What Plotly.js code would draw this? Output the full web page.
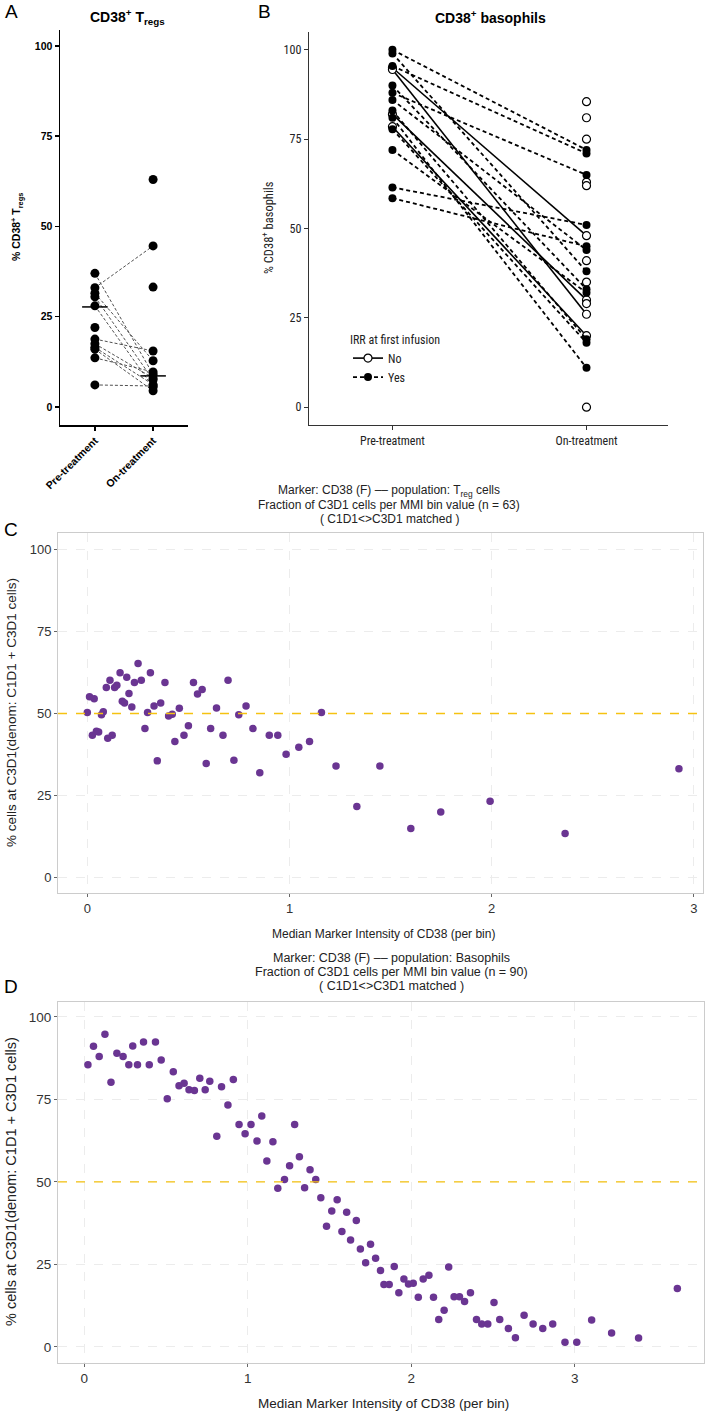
<!DOCTYPE html>
<html>
<head>
<meta charset="utf-8">
<script src="https://cdn.plot.ly/plotly-3.0.1.min.js"></script>
<style>body{margin:0;background:#fff}</style>
</head>
<body>
<div id="fig" style="width:709px;height:1413px"></div>
<script>
// panel A - CD38+ Tregs, pre vs on treatment (null = no partner sample)
var treatLabels = ['Pre-treatment', 'On-treatment'];
var tregPre = [37, 33, 31.5, 30.5, 28, 22, 18.8, 17.5, 16.5, 16, 13.6, 6.1, null, null];
var tregOn  = [9, 44.6, 12.8, 7.5, 5.5, null, 15.5, 8, 6.2, 4.5, 9.7, 5.8, 63, 33.2];
var tregMedian = [27.7, 8.6];

// panel B - CD38+ basophils, split by IRR at first infusion
var basoYesPre = [100, 99, 95.5, 90, 88, 86, 83, 81, 77.8, 72, 61.5, 58.5];
var basoYesOn  = [72, 38, 71, 33, 65, 44, 19, 11, 18, 32, 51, 45];
var basoNoPre  = [95, 94.5, 82, 78.5, null, null, null, null, null, null, null, null, null];
var basoNoOn   = [48, 26, 30, 20, 85.5, 81, 75, 63, 62, 41, 35, 29, 0];

// panel C - Treg cells, % at C3D1 per MMI bin (n = 63)
var tregMmi = [0, 0.011, 0.034, 0.025, 0.045, 0.056, 0.07, 0.079, 0.094, 0.101,
  0.112, 0.123, 0.135, 0.146, 0.162, 0.173, 0.184, 0.195, 0.206, 0.22,
  0.233, 0.251, 0.267, 0.285, 0.298, 0.312, 0.33, 0.346, 0.363, 0.384,
  0.402, 0.42, 0.433, 0.455, 0.478, 0.5, 0.525, 0.545, 0.568, 0.588,
  0.61, 0.639, 0.671, 0.696, 0.725, 0.749, 0.785, 0.819, 0.853, 0.9,
  0.942, 0.983, 1.046, 1.099, 1.158, 1.23, 1.333, 1.447, 1.6, 1.748,
  1.992, 2.363, 2.926];
var tregPct = [50.3, 55.1, 54.5, 43.4, 44.6, 44.4, 49.6, 50.5, 57.9, 42.5,
  60.1, 43.4, 57.9, 58.6, 62.4, 53.7, 53.2, 61, 56.1, 52,
  59.4, 65.2, 60.1, 45.4, 50.3, 62.4, 52.3, 35.6, 53.2, 59.4,
  49.2, 49.8, 41.5, 51.6, 43.4, 46.3, 59.4, 55.9, 57.3, 34.8,
  45.4, 51.7, 43.4, 60.1, 35.8, 49.6, 52.3, 45.4, 32, 43.4,
  43.4, 37.6, 39.7, 41.5, 50.3, 34, 21.7, 34, 15, 20,
  23.3, 13.5, 33.2];

// panel D - basophils, % at C3D1 per MMI bin (n = 90)
var basoMmi = [0.023, 0.057, 0.092, 0.127, 0.164, 0.2, 0.238, 0.273, 0.297, 0.326,
  0.363, 0.398, 0.436, 0.471, 0.508, 0.545, 0.58, 0.611, 0.641, 0.674,
  0.707, 0.74, 0.768, 0.811, 0.84, 0.879, 0.912, 0.947, 0.984, 1.02,
  1.057, 1.086, 1.117, 1.154, 1.184, 1.225, 1.256, 1.287, 1.316, 1.348,
  1.381, 1.416, 1.447, 1.482, 1.514, 1.547, 1.576, 1.605, 1.629, 1.664,
  1.689, 1.721, 1.751, 1.782, 1.812, 1.833, 1.865, 1.896, 1.924, 1.955,
  1.983, 2.012, 2.043, 2.073, 2.108, 2.136, 2.168, 2.201, 2.229, 2.262,
  2.295, 2.326, 2.362, 2.399, 2.431, 2.468, 2.506, 2.541, 2.594, 2.637,
  2.69, 2.745, 2.804, 2.865, 2.94, 3.012, 3.103, 3.225, 3.39, 3.627];
var basoPct = [85.5, 91.1, 88, 94.7, 80.2, 89, 88, 85.5, 91.2, 85.5,
  92.4, 85.5, 92.4, 86.9, 75.2, 83.4, 79.1, 79.9, 77.9, 77.7,
  81.4, 77.9, 80.5, 63.8, 78.8, 73.3, 81, 67.4, 64.6, 67.4,
  62.4, 70, 56.3, 62.2, 48.1, 50.7, 54.9, 67.4, 57.6, 48.2,
  53.7, 50.7, 45.2, 36.6, 41.2, 44.6, 35, 40.8, 32.4, 38.3,
  29.7, 25.5, 31.1, 26.9, 23.2, 18.9, 18.9, 24.4, 16.4, 20.6,
  19.1, 19.3, 15.1, 20.6, 21.7, 15.1, 8.3, 11.1, 24.2, 15.2,
  15.2, 13.8, 16.4, 8.3, 7, 7, 13.5, 8.3, 5.6, 2.8,
  9.6, 7, 5.6, 7, 1.4, 1.4, 8.2, 4.2, 2.7, 17.7];

var W = 709, H = 1413;
function px(v) { return v / W; }
function py(v) { return 1 - v / H; }

// join pre/on pairs into one trace, null breaks the line
function pairs(pre, on) {
    var x = [], y = [];
    for (var i = 0; i < on.length; i++) {
        x.push(0, 1, null);
        y.push(pre[i], on[i], null);
    }
    return { x: x, y: y };
}
function points(pre, on) {
    var x = [], y = [];
    pre.forEach(function (v) { if (v !== null) { x.push(0); y.push(v); } });
    on.forEach(function (v) { if (v !== null) { x.push(1); y.push(v); } });
    return { x: x, y: y };
}

var ARIAL = 'Liberation Sans, Arial, Helvetica, sans-serif';
var NARROW = 'Liberation Sans Narrow, Arial Narrow, Roboto Condensed, Liberation Sans, sans-serif';
var PURPLE = '#6a3592';
var GOLD = '#f5c211';

var aLines = pairs(tregPre, tregOn);
var aPts = points(tregPre, tregOn);
var bNo = pairs(basoNoPre, basoNoOn);
var bYes = pairs(basoYesPre, basoYesOn);

var data = [
    {
        x: aLines.x, y: aLines.y, xaxis: 'x', yaxis: 'y', mode: 'lines',
        line: { color: '#505050', width: 1, dash: '3px,2px' },
        showlegend: false, hoverinfo: 'skip'
    },
    {
        x: aPts.x, y: aPts.y, xaxis: 'x', yaxis: 'y', mode: 'markers',
        marker: { color: 'black', size: 9 }, showlegend: false
    },
    {
        x: [-0.22, 0.22, null, 0.78, 1.22],
        y: [tregMedian[0], tregMedian[0], null, tregMedian[1], tregMedian[1]],
        xaxis: 'x', yaxis: 'y', mode: 'lines',
        line: { color: 'black', width: 1.5 }, showlegend: false
    },
    {
        x: bNo.x, y: bNo.y, xaxis: 'x2', yaxis: 'y2', mode: 'lines+markers', name: 'No',
        line: { color: 'black', width: 1.6 },
        marker: { symbol: 'circle', size: 8, color: 'white', line: { color: 'black', width: 1.2 } }
    },
    {
        x: bYes.x, y: bYes.y, xaxis: 'x2', yaxis: 'y2', mode: 'lines+markers', name: 'Yes',
        line: { color: 'black', width: 1.8, dash: '4px,3px' },
        marker: { symbol: 'circle', size: 8, color: 'black' }
    },
    {
        x: tregMmi, y: tregPct, xaxis: 'x3', yaxis: 'y3', mode: 'markers',
        marker: { color: PURPLE, size: 7.5 }, showlegend: false
    },
    {
        x: basoMmi, y: basoPct, xaxis: 'x4', yaxis: 'y4', mode: 'markers',
        marker: { color: PURPLE, size: 7.5 }, showlegend: false
    }
];

var axA = {
    showline: true, linecolor: 'black', linewidth: 1.5, ticks: 'outside', ticklen: 4,
    tickcolor: 'black', tickwidth: 1.5, showgrid: false, zeroline: false,
    tickfont: { family: ARIAL, size: 10.5, weight: 'bold', color: 'black' }
};
var axB = {
    showline: true, linecolor: '#333', linewidth: 1.2, ticks: 'outside', ticklen: 4,
    tickcolor: '#333', showgrid: false, zeroline: false,
    tickfont: { family: NARROW, size: 12, color: '#222' }
};
function axC(size) {
    return {
        showline: true, mirror: true, linecolor: '#cccccc', linewidth: 1,
        ticks: 'outside', ticklen: 3, tickcolor: '#666', zeroline: false,
        showgrid: true, gridcolor: '#ececec', griddash: 'dash', gridwidth: 1,
        tickfont: { family: ARIAL, size: size, color: '#333' }
    };
}

var layout = {
    width: W, height: H,
    margin: { l: 0, r: 0, t: 0, b: 0 },
    paper_bgcolor: 'white', plot_bgcolor: 'white',
    xaxis: Object.assign({}, axA, {
        domain: [px(60), px(188)], range: [-0.6, 1.6], anchor: 'y',
        tickvals: [0, 1], ticktext: treatLabels, tickangle: -45
    }),
    yaxis: Object.assign({}, axA, {
        domain: [py(425), py(30)], range: [-5, 104.4], anchor: 'x',
        tickvals: [0, 25, 50, 75, 100]
    }),
    xaxis2: Object.assign({}, axB, {
        domain: [px(309), px(668)], range: [-0.43, 1.42], anchor: 'y2',
        tickvals: [0, 1], ticktext: treatLabels
    }),
    yaxis2: Object.assign({}, axB, {
        domain: [py(425), py(32)], range: [-5, 105], anchor: 'x2',
        tickvals: [0, 25, 50, 75, 100]
    }),
    xaxis3: Object.assign(axC(13), {
        domain: [px(58), px(703)], range: [-0.145, 3.045], anchor: 'y3', tickvals: [0, 1, 2, 3]
    }),
    yaxis3: Object.assign(axC(13), {
        domain: [py(893), py(533)], range: [-4.6, 104.9], anchor: 'x3', tickvals: [0, 25, 50, 75, 100]
    }),
    xaxis4: Object.assign(axC(13.5), {
        domain: [px(58), px(704)], range: [-0.16, 3.79], anchor: 'y4', tickvals: [0, 1, 2, 3]
    }),
    yaxis4: Object.assign(axC(13.5), {
        domain: [py(1363), py(1002)], range: [-4.85, 104.5], anchor: 'x4', tickvals: [0, 25, 50, 75, 100]
    }),
    legend: {
        x: px(348), y: py(328), xanchor: 'left', yanchor: 'top',
        bgcolor: 'rgba(0,0,0,0)', itemwidth: 30, tracegroupgap: 0,
        font: { family: NARROW, size: 12, color: '#222' },
        title: { text: 'IRR at first infusion', font: { family: NARROW, size: 12, color: '#222' } }
    },
    shapes: [
        { type: 'line', layer: 'above', xref: 'x3 domain', yref: 'y3', x0: 0, x1: 1, y0: 50, y1: 50,
          line: { color: GOLD, width: 1.4, dash: 'dash' } },
        { type: 'line', layer: 'above', xref: 'x4 domain', yref: 'y4', x0: 0, x1: 1, y0: 50, y1: 50,
          line: { color: GOLD, width: 1.4, dash: 'dash' } }
    ],
    annotations: []
};

function note(text, x, y, opts) {
    layout.annotations.push(Object.assign({
        text: text, xref: 'paper', yref: 'paper', x: px(x), y: py(y),
        showarrow: false, xanchor: 'center', yanchor: 'middle',
        font: { family: ARIAL, size: 12, color: 'black' }
    }, opts || {}));
}

// panel letters
note('A', 3, 12, { xanchor: 'left', font: { family: ARIAL, size: 19, color: 'black' } });
note('B', 256, 12, { xanchor: 'left', font: { family: ARIAL, size: 19, color: 'black' } });
note('C', 2, 529, { xanchor: 'left', font: { family: ARIAL, size: 19, color: 'black' } });
note('D', 2, 986, { xanchor: 'left', font: { family: ARIAL, size: 19, color: 'black' } });

// panel titles
note('CD38<sup>+</sup> T<sub>regs</sub>', 127, 17, { font: { family: ARIAL, size: 14, weight: 'bold', color: 'black' } });
note('CD38<sup>+</sup> basophils', 490, 17, { font: { family: ARIAL, size: 14, weight: 'bold', color: 'black' } });

// y titles for A and B
note('% CD38<sup>+</sup> T<sub>regs</sub>', 17, 227, { textangle: -90, font: { family: ARIAL, size: 10.5, weight: 'bold', color: 'black' } });
note('% CD38<sup>+</sup> basophils', 268, 228, { textangle: -90, font: { family: NARROW, size: 12.5, color: '#222' } });

// C titles
var fC = { family: ARIAL, size: 12, color: '#222' };
note('Marker: CD38 (F) –– population: T<sub>reg</sub> cells', 389, 491, { font: fC });
note('Fraction of C3D1 cells per MMI bin value (n = 63)', 389, 505, { font: fC });
note('( C1D1&lt;&gt;C3D1 matched )', 389, 519, { font: fC });
note('% cells at C3D1(denom: C1D1 + C3D1 cells)', 11, 713, { textangle: -90, font: { family: ARIAL, size: 13.5, color: '#222' } });
note('Median Marker Intensity of CD38 (per bin)', 383, 934, { font: { family: ARIAL, size: 12, color: '#222' } });

// D titles
var fD = { family: ARIAL, size: 12.5, color: '#222' };
note('Marker: CD38 (F) –– population: Basophils', 391, 958, { font: fD });
note('Fraction of C3D1 cells per MMI bin value (n = 90)', 391, 972, { font: fD });
note('( C1D1&lt;&gt;C3D1 matched )', 391, 986, { font: fD });
note('% cells at C3D1(denom: C1D1 + C3D1 cells)', 11, 1182, { textangle: -90, font: { family: ARIAL, size: 14.5, color: '#222' } });
note('Median Marker Intensity of CD38 (per bin)', 383, 1403, { font: { family: ARIAL, size: 13.5, color: '#222' } });

Plotly.newPlot('fig', data, layout, { staticPlot: true });
</script>
</body>
</html>
